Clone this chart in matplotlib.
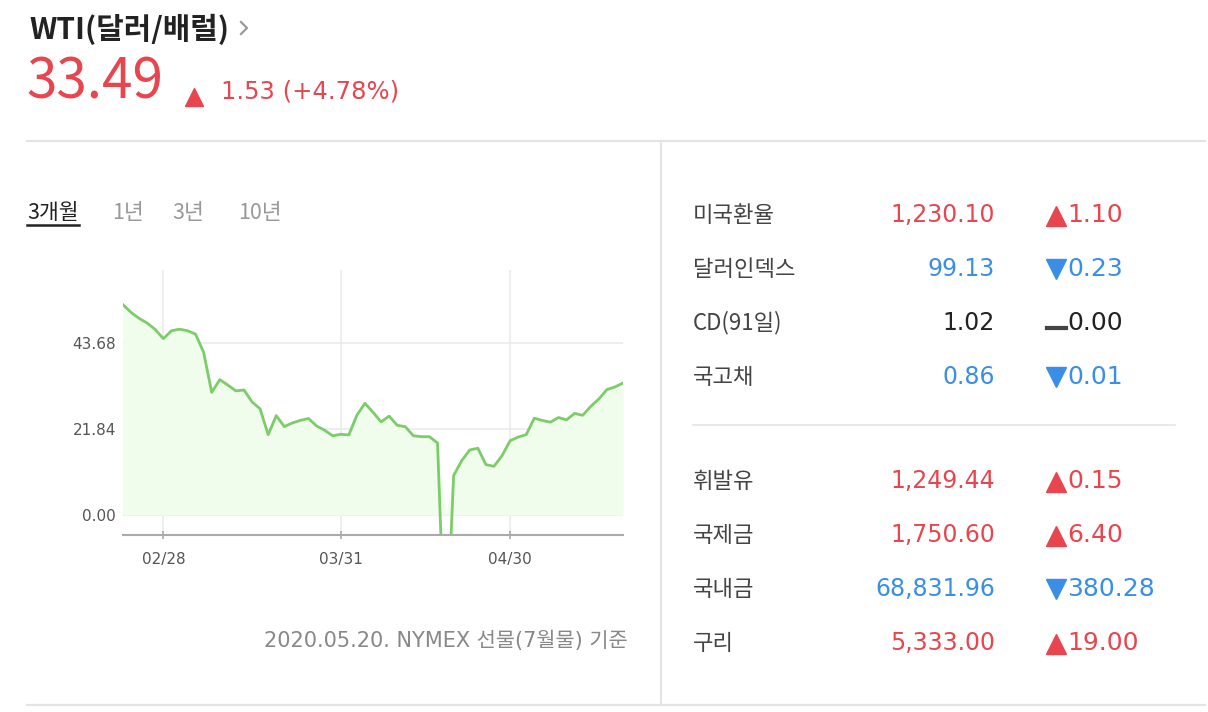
import numpy as np
import matplotlib
matplotlib.use("Agg")
import matplotlib.pyplot as plt
from matplotlib.lines import Line2D

plt.rcParams['font.family'] = ['Noto Sans CJK KR', 'DejaVu Sans']
NUMF = ['DejaVu Sans', 'Noto Sans CJK KR']

# WTI daily closes (trading days 02/21 ~ 05/20)
dates = ['02/21', '02/24', '02/25', '02/26', '02/27', '02/28',
         '03/02', '03/03', '03/04', '03/05', '03/06', '03/09', '03/10', '03/11', '03/12', '03/13',
         '03/16', '03/17', '03/18', '03/19', '03/20', '03/23', '03/24', '03/25', '03/26', '03/27',
         '03/30', '03/31', '04/01', '04/02', '04/03', '04/06', '04/07', '04/08', '04/09',
         '04/13', '04/14', '04/15', '04/16', '04/17', '04/20', '04/21', '04/22', '04/23', '04/24',
         '04/27', '04/28', '04/29', '04/30', '05/01', '05/04', '05/05', '05/06', '05/07', '05/08',
         '05/11', '05/12', '05/13', '05/14', '05/15', '05/18', '05/19', '05/20']
prices = [53.38, 51.43, 49.90, 48.73, 47.09, 44.76,
          46.75, 47.18, 46.78, 45.90, 41.28, 31.13, 34.36, 32.98, 31.50, 31.73,
          28.70, 26.95, 20.37, 25.22, 22.43, 23.36, 24.01, 24.49, 22.60, 21.51,
          20.09, 20.48, 20.31, 25.32, 28.34, 26.08, 23.63, 25.09, 22.76,
          22.41, 20.11, 19.87, 19.87, 18.27, -37.63, 10.01, 13.78, 16.50, 16.94,
          12.78, 12.34, 15.06, 18.84, 19.78, 20.39, 24.56, 23.99, 23.55, 24.74,
          24.14, 25.78, 25.29, 27.56, 29.43, 31.82, 32.50, 33.49]
y_ticks = [0.00, 21.84, 43.68]
x_tick_labels = ['02/28', '03/31', '04/30']

# side table
names = ['미국환율', '달러인덱스', 'CD(91일)', '국고채', '휘발유', '국제금', '국내금', '구리']
values = ['1,230.10', '99.13', '1.02', '0.86', '1,249.44', '1,750.60', '68,831.96', '5,333.00']
changes = ['1.10', '0.23', '0.00', '0.01', '0.15', '6.40', '380.28', '19.00']
direction = ['up', 'down', 'flat', 'down', 'up', 'up', 'down', 'up']

RED = '#e8464f'
BLUE = '#3b8ee8'
GREEN = '#7ccd6a'
W, H = 1208, 712

fig = plt.figure(figsize=(W / 100, H / 100), dpi=100)
bg = fig.add_axes([0, 0, 1, 1])
bg.set_xlim(0, W)
bg.set_ylim(H, 0)
bg.axis('off')

# header
bg.text(29, 29, 'WTI(달러/배럴)', fontsize=21.5, fontweight='bold', color='#222222', va='center')
bg.plot([241, 247, 241], [22, 28, 34], color='#999999', lw=1.6)
bg.text(26, 83, '33.49', fontsize=39.5, color=RED, va='center')
bg.plot([194], [97], marker='^', color=RED, markersize=13, ls='none')
bg.text(221, 91, '1.53 (+4.78%)', fontsize=17.5, color=RED, va='center', family=NUMF)

# separators
sep = '#e4e4e4'
bg.add_line(Line2D([27, 1205], [141, 141], color=sep, lw=1.6))
bg.add_line(Line2D([27, 1205], [705, 705], color=sep, lw=1.6))
bg.add_line(Line2D([661, 661], [141, 705], color=sep, lw=1.6))
bg.add_line(Line2D([693, 1175], [425, 425], color=sep, lw=1.2))

# period tabs
bg.text(27, 213, '3개월', fontsize=15.5, color='#222222', va='center')
bg.add_line(Line2D([27, 79], [225, 225], color='#222222', lw=1.8))
for lbl, x in zip(['1년', '3년', '10년'], [112, 172, 238]):
    bg.text(x, 213, lbl, fontsize=15.5, color='#999999', va='center')

# footer
bg.text(628, 641, '2020.05.20. NYMEX 선물(7월물) 기준', fontsize=15, color='#888888',
        va='center', ha='right', family=NUMF)

# side table
row_y = [215, 269, 323, 377, 481, 535, 589, 643]
for name, val, chg, d, y in zip(names, values, changes, direction, row_y):
    col = {'up': RED, 'down': BLUE, 'flat': '#222222'}[d]
    bg.text(693, y, name, fontsize=16, color='#444444', va='center')
    bg.text(995, y, val, fontsize=17, color=col, va='center', ha='right', family=NUMF)
    if d == 'up':
        bg.plot([1056], [y + 1], marker='^', color=RED, markersize=15, ls='none')
    elif d == 'down':
        bg.plot([1056], [y], marker='v', color=BLUE, markersize=15, ls='none')
    else:
        bg.add_line(Line2D([1047, 1066], [y + 5, y + 5], color='#444444', lw=3))
    bg.text(1067, y, chg, fontsize=18, color=col, va='center', family=NUMF)

# chart
ax = fig.add_axes([123 / W, 177 / H, 500 / W, 265 / H])
x = np.arange(len(prices))
p = np.array(prices)
ax.fill_between(x, np.maximum(p, 0), 0, color='#f0fcec', lw=0)
ax.plot(x, p, color=GREEN, lw=2)
ax.set_xlim(0, len(prices) - 1)
ax.set_ylim(-5.1, 62.2)
ax.set_yticks(y_ticks)
ax.set_yticklabels(['%.2f' % v for v in y_ticks])
xt = [dates.index(d) for d in x_tick_labels]
ax.set_xticks(xt)
ax.set_xticklabels(x_tick_labels)
for v in y_ticks:
    ax.axhline(v, color='#ebebeb', lw=1.2, zorder=0)
for v in xt:
    ax.axvline(v, color='#ebebeb', lw=1.2, zorder=0)
for s in ['top', 'right', 'left']:
    ax.spines[s].set_visible(False)
ax.spines['bottom'].set_color('#aaaaaa')
ax.spines['bottom'].set_linewidth(1.5)
ax.tick_params(axis='y', length=0, pad=5, labelsize=11, labelcolor='#555555')
ax.tick_params(axis='x', length=6, direction='inout', color='#aaaaaa', width=1.2,
               pad=9, labelsize=11, labelcolor='#555555')
for t in ax.get_xticklabels() + ax.get_yticklabels():
    t.set_fontfamily(['DejaVu Sans'])
ax.patch.set_alpha(0)

fig.savefig('out.png', dpi=100)
